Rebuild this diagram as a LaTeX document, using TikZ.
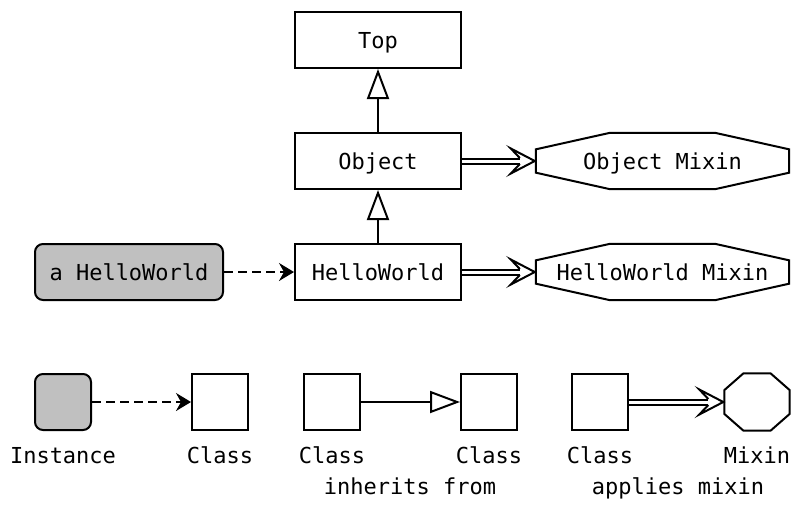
\documentclass[tikz,border=0pt]{standalone}
\usepackage{fontspec}
\setmainfont{DejaVu Sans Mono}
\usetikzlibrary{arrows.meta,calc}
\definecolor{instgray}{HTML}{C0C0C0}
% stretched octagon drawn around a (plain, undrawn) node
\newcommand\octframe[1]{%
  \draw[line width=2pt]
    ($(#1.west)!.414!(#1.north west)$) --
    ($(#1.north)!.414!(#1.north west)$) --
    ($(#1.north)!.414!(#1.north east)$) --
    ($(#1.east)!.414!(#1.north east)$) --
    ($(#1.east)!.414!(#1.south east)$) --
    ($(#1.south)!.414!(#1.south east)$) --
    ($(#1.south)!.414!(#1.south west)$) --
    ($(#1.west)!.414!(#1.south west)$) -- cycle;}
% "applies mixin": double shaft ending in an open chevron at the mixin
\newcommand\mixinarrow[2]{%
  \draw[double, line width=2pt, double distance=3pt]
    (#1.east) -- ($(#2.west)+(-16,0)$);
  \draw[line width=2pt, line join=miter]
    ($(#2.west)+(-16,-3)$) -- ($(#2.west)+(-25,-12.5)$) --
    ($(#2.west)+(-1,0)$) --
    ($(#2.west)+(-25,12.5)$) -- ($(#2.west)+(-16,3)$);}
\begin{document}
\begin{tikzpicture}[x=1pt,y=-1pt,
  font=\fontsize{22}{26}\selectfont,
  every node/.style={inner sep=0pt, text height=16pt, text depth=0pt},
  cls/.style={draw, line width=2pt, minimum width=166pt, minimum height=56pt},
  inst/.style={cls, fill=instgray, rounded corners=8pt, minimum width=188pt},
  mixin/.style={minimum width=253pt, minimum height=56pt},
  sq/.style={draw, line width=2pt, minimum width=56pt, minimum height=56pt},
  sqinst/.style={sq, fill=instgray, rounded corners=8pt},
  lbl/.style={anchor=base, text height=, text depth=},
  inherit/.style={line width=2pt, -{Triangle[open, length=30pt, width=22pt]}},
  instof/.style={line width=2pt, dash pattern=on 9pt off 5pt,
    -{Stealth[length=15pt, width=18pt, inset=5pt]}}]
\useasboundingbox (0,0) rectangle (792,504);

% class hierarchy
\node[cls] (top) at (378,40) {Top};
\node[cls] (obj) at (378,161) {Object};
\node[cls] (hw) at (378,272) {HelloWorld};
\node[inst] (ahw) at (129,272) {a HelloWorld};
\node[mixin] (om) at (662.5,161) {Object Mixin};
\octframe{om}
\node[mixin] (hwm) at (662.5,272) {HelloWorld Mixin};
\octframe{hwm}

\draw[inherit] (obj) -- (top);
\draw[inherit] (hw) -- (obj);
\draw[instof] (ahw) -- (hw);
\mixinarrow{obj}{om}
\mixinarrow{hw}{hwm}

% legend
\node[sqinst] (li) at (63,402) {};
\node[sq] (lc1) at (220,402) {};
\node[sq] (lc2) at (332,402) {};
\node[sq] (lc3) at (489,402) {};
\node[sq] (lc4) at (600,402) {};
\node[minimum width=65pt, minimum height=57pt] (lm) at (757,402) {};
\octframe{lm}

\draw[instof] (li) -- (lc1);
\draw[inherit] (lc2) -- (lc3);
\mixinarrow{lc4}{lm}

\node[lbl] (ti) at (63,463) {Instance};
\node[lbl] (tc1) at (220,463) {Class};
\node[lbl] (tc2) at (332,463) {Class};
\node[lbl] (tc3) at (489,463) {Class};
\node[lbl] (tc4) at (600,463) {Class};
\node[lbl] (tm) at (757,463) {Mixin};
\node[lbl] (tinh) at (410,494) {inherits from};
\node[lbl] (tapp) at (678,494) {applies mixin};
\end{tikzpicture}
\end{document}
